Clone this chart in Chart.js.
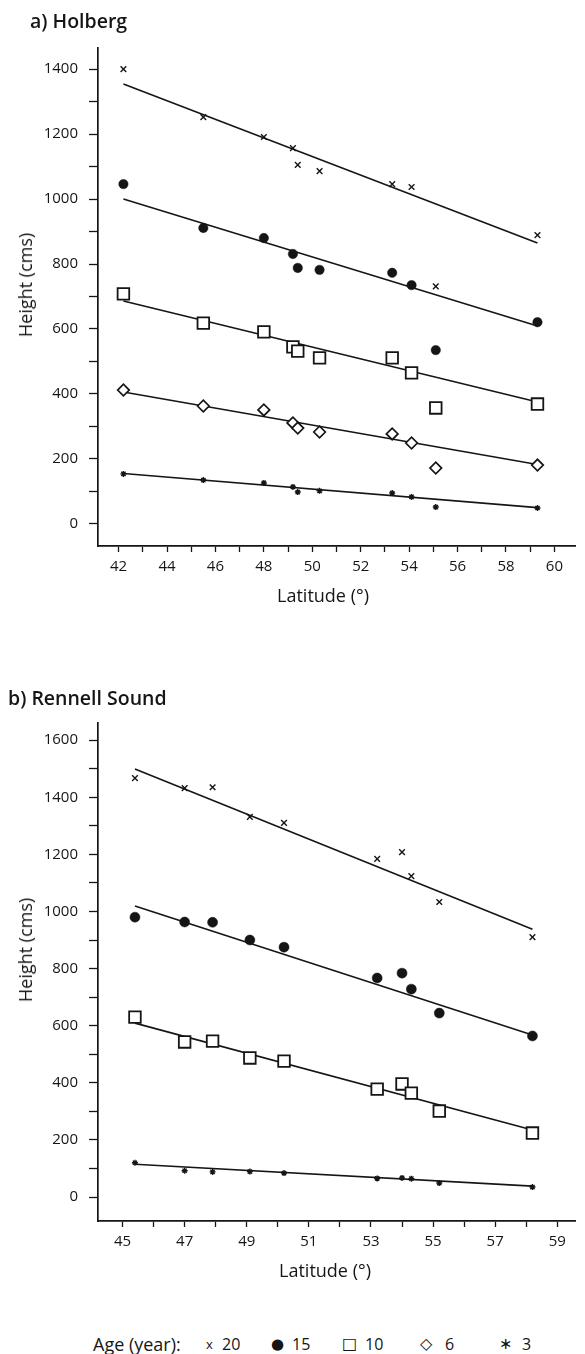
<!DOCTYPE html>
<html>
<head>
<meta charset="utf-8">
<script src="https://cdn.jsdelivr.net/npm/chart.js@4.4.1/dist/chart.umd.min.js"></script>
<style>
  html, body { margin: 0; padding: 0; background: #fff; overflow: hidden; }
  body { width: 585px; height: 1354px; position: relative; font-family: "Open Sans", sans-serif; color: #151515; }
  canvas { position: absolute; left: 0; }
  .t { position: absolute; white-space: nowrap; line-height: 1; }
  .ytitle { transform: translate(-50%, -50%) rotate(-90deg); font-size: 18px; }
  .xtitle { transform: translateX(-50%); font-size: 18px; }
  .ptitle { font-size: 19.5px; font-weight: 600; }
  .leg { position: absolute; white-space: nowrap; top: 1333px; height: 22px; line-height: 22px; }
</style>
</head>
<body>
<canvas id="chartA" width="585" height="620" style="top:0px"></canvas>
<canvas id="chartB" width="585" height="640" style="top:660px"></canvas>

<div class="t ptitle" style="left:30px; top:10.5px;">a) Holberg</div>
<div class="t ytitle" style="left:25px; top:285px;">Height (cms)</div>
<div class="t xtitle" style="left:323px; top:586px;">Latitude (°)</div>

<div class="t ptitle" style="left:8px; top:688px;">b) Rennell Sound</div>
<div class="t ytitle" style="left:25px; top:950px;">Height (cms)</div>
<div class="t xtitle" style="left:325px; top:1261px;">Latitude (°)</div>

<div class="leg" style="left:93px; font-size:18px;">Age (year):</div>
<div class="leg" style="left:206px; font-size:13px;">x</div>
<div class="leg" style="left:222px; font-size:16px;">20</div>
<div class="leg" style="left:271px; font-size:15px; font-family:'DejaVu Sans';">●</div>
<div class="leg" style="left:292px; font-size:16px;">15</div>
<div class="leg" style="left:342px; font-size:16px; font-family:'DejaVu Sans';">□</div>
<div class="leg" style="left:365px; font-size:16px;">10</div>
<div class="leg" style="left:420px; font-size:16px; font-family:'DejaVu Sans';">◇</div>
<div class="leg" style="left:445px; font-size:16px;">6</div>
<div class="leg" style="left:499px; font-size:16px; font-family:'DejaVu Sans';">∗</div>
<div class="leg" style="left:522px; font-size:16px;">3</div>

<script>
// ---------- Panel a) Holberg ----------
const latA = [42.2, 45.5, 48.0, 49.2, 49.4, 50.3, 53.3, 54.1, 55.1, 59.3];
const a20  = [1400, 1252, 1191, 1157, 1105, 1086, 1046, 1037, 731, 889];
const a15  = [1046, 911, 880, 831, 788, 782, 773, 735, 535, 621];
const a10  = [708, 618, 591, 545, 532, 511, 511, 465, 357, 369];
const a6   = [412, 363, 351, 311, 295, 283, 277, 249, 172, 181];
const a3   = [154, 135, 126, 114, 98, 102, 95, 83, 52, 49];
// fitted regression lines (end values)
const fitLatA = [42.2, 59.3];
const fitA20 = [1354, 865];
const fitA15 = [1000, 609];
const fitA10 = [686, 375];
const fitA6  = [406, 183];
const fitA3  = [155, 50];

// ---------- Panel b) Rennell Sound ----------
const latB = [45.4, 47.0, 47.9, 49.1, 50.2, 53.2, 54.0, 54.3, 55.2, 58.2];
const b20  = [1467, 1432, 1435, 1331, 1310, 1184, 1208, 1124, 1033, 910];
const b15  = [980, 963, 962, 900, 875, 767, 784, 728, 644, 564];
const b10  = [630, 543, 546, 487, 476, 378, 396, 364, 301, 224];
const b3   = [120, 92, 88, 89, 84, 65, 67, 64, 49, 35];
const fitLatB = [45.4, 58.2];
const fitB20 = [1499, 938];
const fitB15 = [1019, 567];
const fitB10 = [609, 235];
const fitB3  = [115, 38];

// axis tick settings
const ticksA = { xMin: 41.15, xMax: 60.85, yMin: -68, yMax: 1465, xLabelParity: 0 };
const ticksB = { xMin: 44.21, xMax: 59.57, yMin: -84, yMax: 1660, xLabelParity: 1 };

const INK = '#151515';
const FONT = 'Open Sans';

function pts(lat, vals) { return lat.map((x, i) => ({ x: x, y: vals[i] })); }

function markerSet(lat, vals, style) {
  return Object.assign({ data: pts(lat, vals), showLine: false, order: 0,
    borderColor: INK, backgroundColor: INK }, style);
}
function fitLine(lat, vals) {
  return { data: pts(lat, vals), showLine: true, pointRadius: 0, borderColor: INK,
    borderWidth: 1.6, fill: false, order: 1 };
}

const S20 = { pointStyle: 'crossRot', pointRadius: 4, borderWidth: 1.4 };
const S15 = { pointStyle: 'circle', pointRadius: 4.7, borderWidth: 0.5 };
const S10 = { pointStyle: 'rect', pointRadius: 8.2, borderWidth: 1.8, backgroundColor: '#fff' };
const S6  = { pointStyle: 'rectRot', pointRadius: 5.8, borderWidth: 1.7, backgroundColor: '#fff' };
const S3  = { pointStyle: 'star', pointRadius: 3, borderWidth: 1.4 };

function options(t, padTop, xHeight) {
  return {
    responsive: false,
    animation: false,
    layout: { padding: { top: padTop, left: 0, right: 0, bottom: 0 } },
    plugins: { legend: { display: false }, tooltip: { enabled: false } },
    scales: {
      x: {
        type: 'linear', min: t.xMin, max: t.xMax,
        ticks: {
          stepSize: 1, includeBounds: false, autoSkip: false, maxRotation: 0, minRotation: 0,
          padding: 6, color: INK, font: { family: FONT, size: 15 },
          callback: (v) => (Math.round(v) % 2 === t.xLabelParity ? String(Math.round(v)) : '')
        },
        grid: { drawOnChartArea: false, drawTicks: true, tickLength: 6, tickColor: INK, tickWidth: 1.3 },
        border: { display: true, color: INK, width: 1.7 },
        afterFit: (s) => { s.height = xHeight; }
      },
      y: {
        type: 'linear', min: t.yMin, max: t.yMax,
        ticks: {
          stepSize: 100, includeBounds: false, autoSkip: false,
          padding: 11, color: INK, font: { family: FONT, size: 15 },
          callback: (v) => (Math.round(v) % 200 === 0 ? String(Math.round(v)) : '')
        },
        grid: { drawOnChartArea: false, drawTicks: true, tickLength: 9, tickColor: INK, tickWidth: 1.3 },
        border: { display: true, color: INK, width: 1.7 },
        afterFit: (s) => { s.width = 98; }
      }
    }
  };
}

new Chart(document.getElementById('chartA'), {
  type: 'scatter',
  data: {
    datasets: [
      markerSet(latA, a20, S20),
      markerSet(latA, a15, S15),
      markerSet(latA, a10, S10),
      markerSet(latA, a6, S6),
      markerSet(latA, a3, S3),
      fitLine(fitLatA, fitA20),
      fitLine(fitLatA, fitA15),
      fitLine(fitLatA, fitA10),
      fitLine(fitLatA, fitA6),
      fitLine(fitLatA, fitA3)
    ]
  },
  options: options(ticksA, 48, 74)
});

new Chart(document.getElementById('chartB'), {
  type: 'scatter',
  data: {
    datasets: [
      markerSet(latB, b20, S20),
      markerSet(latB, b15, Object.assign({}, S15, { pointRadius: 5 })),
      markerSet(latB, b10, S10),
      markerSet(latB, b3, S3),
      fitLine(fitLatB, fitB20),
      fitLine(fitLatB, fitB15),
      fitLine(fitLatB, fitB10),
      fitLine(fitLatB, fitB3)
    ]
  },
  options: options(ticksB, 63, 79)
});
</script>
</body>
</html>
